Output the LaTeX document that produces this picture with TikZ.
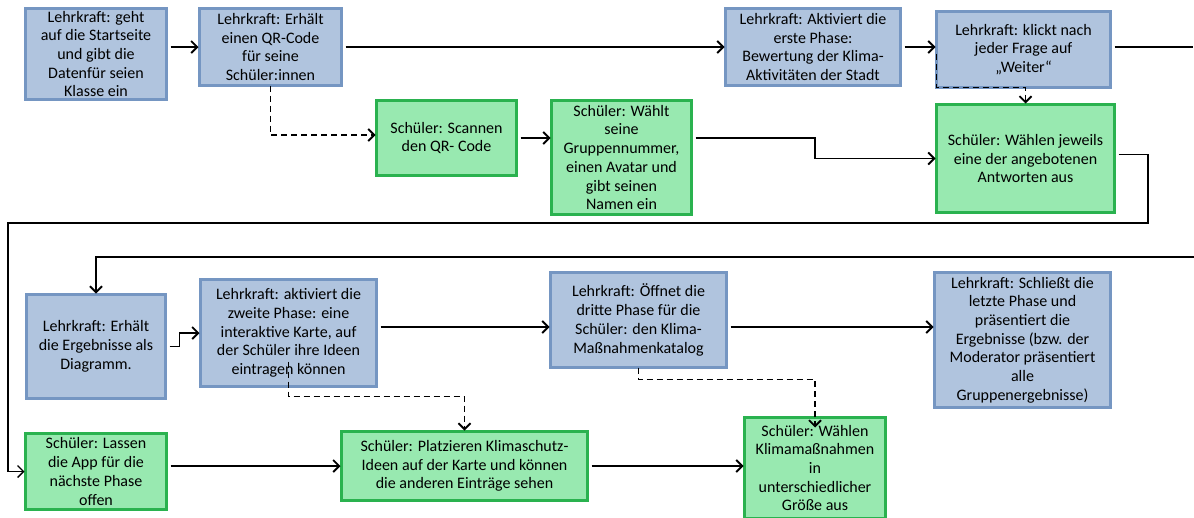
\documentclass[tikz,border=0pt]{standalone}
\usepackage{fontspec}
\setmainfont{Carlito}
\usetikzlibrary{arrows.meta,calc}
\definecolor{bfill}{HTML}{B0C4DE}
\definecolor{bdraw}{HTML}{7596C2}
\definecolor{gfill}{HTML}{98E9B0}
\definecolor{gdraw}{HTML}{2AB24F}
\begin{document}
\begin{tikzpicture}[x=1pt,y=-1pt,
  box/.style={rectangle, inner sep=0pt, outer sep=0pt, align=center,
    font=\fontsize{16}{18.7}\selectfont},
  tbox/.style={box, draw=bdraw, fill=bfill, line width=3pt},
  sbox/.style={box, draw=gdraw, fill=gfill, line width=3.5pt},
  arr/.style={-{Straight Barb[length=6pt,width=12pt]}, line width=1.8pt,
    shorten <=4pt, shorten >=1pt},
  thin/.style={line width=1.4pt},
  dasharr/.style={arr, dash pattern=on 6pt off 4pt, shorten <=0pt}]
\fill[white] (0,0) rectangle (1194,517);
\useasboundingbox (0,0) rectangle (1194,517);

% row 1 teacher boxes
\node[tbox, minimum width=141pt, minimum height=91pt] (A) at (96,54)
  {Lehrkraft: geht\\auf die Startseite\\und gibt die\\Datenfür seien\\Klasse ein};
\node[tbox, minimum width=142pt, minimum height=77pt] (B) at (270.5,47)
  {Lehrkraft: Erhält\\einen QR-Code\\für seine\\Schüler:innen};
\node[tbox, minimum width=175pt, minimum height=77pt] (C) at (813,47)
  {Lehrkraft: Aktiviert die\\erste Phase:\\Bewertung der Klima-\\Aktivitäten der Stadt};
\node[tbox, minimum width=174pt, minimum height=76pt] (D) at (1023.5,49.5)
  {Lehrkraft: klickt nach\\jeder Frage auf\\„Weiter“};
% row 1 student boxes
\node[sbox, minimum width=140pt, minimum height=75pt] (F) at (446.5,138)
  {Schüler: Scannen\\den QR- Code};
\node[sbox, minimum width=140pt, minimum height=114pt] (G) at (621.5,157.5)
  {Schüler: Wählt\\seine\\Gruppennummer,\\einen Avatar und\\gibt seinen\\Namen ein};
\node[sbox, minimum width=178pt, minimum height=108pt] (E) at (1025.5,158.5)
  {Schüler: Wählen jeweils\\eine der angebotenen\\Antworten aus};
% row 2 teacher boxes
\node[tbox, minimum width=139pt, minimum height=104pt] (H) at (96,346.5)
  {Lehrkraft: Erhält\\die Ergebnisse als\\Diagramm.};
\node[tbox, minimum width=176pt, minimum height=107pt] (J) at (288.5,333)
  {Lehrkraft: aktiviert die\\zweite Phase: eine\\interaktive Karte, auf\\der Schüler ihre Ideen\\eintragen können};
\node[tbox, minimum width=176pt, minimum height=95pt] (K) at (638.5,320)
  {Lehrkraft: Öffnet die\\dritte Phase für die\\Schüler: den Klima-\\Maßnahmenkatalog};
\node[tbox, minimum width=176pt, minimum height=135pt] (L) at (1022.5,340)
  {Lehrkraft: Schließt die\\letzte Phase und\\präsentiert die\\Ergebnisse (bzw. der\\Moderator präsentiert\\alle\\Gruppenergebnisse)};
% row 2 student boxes
\node[sbox, minimum width=141pt, minimum height=76pt] (I) at (96,471.5)
  {Schüler: Lassen\\die App für die\\nächste Phase\\offen};
\node[sbox, minimum width=246pt, minimum height=69pt] (M) at (464.5,466)
  {Schüler: Platzieren Klimaschutz-\\Ideen auf der Karte und können\\die anderen Einträge sehen};
\node[sbox, minimum width=141pt, minimum height=101pt] (N) at (815,468)
  {Schüler: Wählen\\Klimamaßnahmen\\in\\unterschiedlicher\\Größe aus};

% free ends and bends
\coordinate (outR) at (1194,47);
\coordinate (inR) at (1194,257);
\coordinate (bendGE) at (815,150);
\coordinate (loopR) at (1148,223);
\coordinate (loopL) at (8,223);

% row 1 connectors
\draw[arr] (A.east |- B.west) -- (B.west);
\draw[arr] (B.east) -- (C.west);
\draw[arr] (C.east) -- (C.east -| D.west);
\draw[arr, -] (D.east |- outR) -- (outR);
\draw[dasharr] ([yshift=-4pt]D.west) -- (D.south west) -| (E.north);
\draw[dasharr] (B.south) |- ([yshift=3pt]F.west);
\draw[arr] (F.east) -- (F.east -| G.west);
\draw[arr] (G.east |- F.east) -| (bendGE) |- (E.west);
\draw[arr, thin] ([yshift=4pt]E.east) -| (loopR) -- (loopL) |- (I.west);

% row 2 connectors
\draw[arr, shorten <=0pt] (inR) -| (H.north);
\draw[arr] (H.east) -- ++(14,0) |- (J.west);
\draw[arr] ([yshift=6pt]J.east) -- ([yshift=6pt]J.east -| K.west);
\draw[arr] ([yshift=-7pt]K.east) -- ([yshift=-7pt]K.east -| L.west);
\draw[dasharr] ([yshift=25pt]J.south) -- ([yshift=-10pt]J.south) -| (M.north);
\draw[dasharr] (K.south) -- ([yshift=-12pt]K.south) -| ([yshift=-11pt]N.north);
\draw[arr] (I.east |- M.west) -- (M.west);
\draw[arr] (M.east) -- (M.east -| N.west);
\end{tikzpicture}
\end{document}
